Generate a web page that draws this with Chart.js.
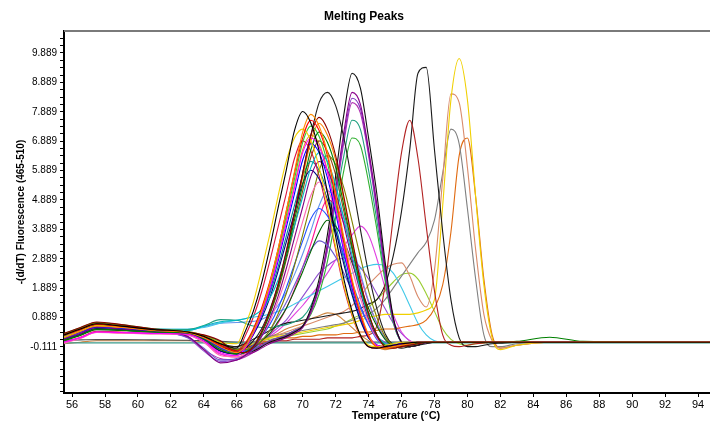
<!DOCTYPE html>
<html>
<head>
<meta charset="utf-8">
<script src="https://cdn.jsdelivr.net/npm/chart.js@4.4.1/dist/chart.umd.min.js"></script>
<style>
  html, body { margin: 0; padding: 0; background: #fff; overflow: hidden; }
  #wrap { width: 728px; height: 423px; }
</style>
</head>
<body>
<div id="wrap"><canvas id="meltChart" width="728" height="423"></canvas></div>
<script>
// Temperatures (x) shared by every curve
const temperatures = [55.5, 56.5, 57.5, 59, 61, 63, 64, 65,
  66, 66.5, 67, 67.5, 68, 68.5, 69, 69.5, 70, 70.5, 71, 71.5, 72, 72.5, 73, 73.5, 74, 74.5, 75, 75.5, 76, 76.5, 77, 77.5, 78, 78.5, 79, 79.5, 80, 80.5, 81, 81.5, 82,
  83, 85, 87, 96];

const xTicks = [56, 58, 60, 62, 64, 66, 68, 70, 72, 74, 76, 78, 80, 82, 84, 86, 88, 90, 92, 94];
const yTicks = [-0.111, 0.889, 1.889, 2.889, 3.889, 4.889, 5.889, 6.889, 7.889, 8.889, 9.889];

// -(d/dT) values per sample
const s01 = [0.3, 0.5, 0.68, 0.6, 0.48, 0.4, 0.25, 0.0,
  -0.15, 0.4, 1.1, 2.05, 3.25, 4.6, 5.9, 7.25, 7.9, 7.5, 6.55, 5.15, 3.65, 2.2, 1.1, 0.3, -0.1, -0.15, -0.1, -0.05, 0.0, 0.03, 0.05, 0.05, 0.05, 0.05, 0.05, 0.05, 0.05, 0.05, 0.05, 0.05, 0.05,
  0.05, 0.05, 0.05, 0.05];
const s02 = [0.2, 0.42, 0.6, 0.55, 0.45, 0.38, 0.2, -0.1,
  -0.3, -0.1, 0.4, 1.1, 2.05, 3.2, 4.5, 5.85, 7.2, 7.8, 7.4, 6.5, 5.1, 3.6, 2.2, 1.1, 0.3, -0.1, -0.15, -0.1, -0.05, 0.0, 0.05, 0.05, 0.05, 0.05, 0.05, 0.05, 0.05, 0.05, 0.05, 0.05, 0.05,
  0.05, 0.05, 0.05, 0.05];
const s03 = [0.28, 0.48, 0.66, 0.58, 0.46, 0.38, 0.22, -0.05,
  -0.25, 0.0, 0.5, 1.2, 2.1, 3.2, 4.5, 5.8, 7.0, 7.6, 7.25, 6.4, 5.0, 3.5, 2.1, 1.0, 0.25, -0.1, -0.15, -0.1, -0.05, 0.0, 0.05, 0.05, 0.05, 0.05, 0.05, 0.05, 0.05, 0.05, 0.05, 0.05, 0.05,
  0.05, 0.05, 0.05, 0.05];
const s04 = [0.35, 0.55, 0.74, 0.65, 0.5, 0.4, 0.3, 0.1,
  -0.3, -0.3, -0.1, 0.4, 1.1, 2.0, 3.15, 4.45, 5.8, 7.1, 7.7, 7.3, 6.4, 5.0, 3.55, 2.15, 1.05, 0.3, -0.1, -0.15, -0.1, -0.05, 0.0, 0.05, 0.05, 0.05, 0.05, 0.05, 0.05, 0.05, 0.05, 0.05, 0.05,
  0.05, 0.05, 0.05, 0.05];
const s05 = [0.22, 0.44, 0.62, 0.56, 0.46, 0.4, 0.25, 0.05,
  0.0, 0.6, 1.4, 2.5, 3.7, 5.0, 6.2, 7.0, 7.3, 6.9, 6.0, 4.7, 3.3, 2.0, 1.0, 0.3, -0.05, -0.1, -0.05, 0.0, 0.05, 0.05, 0.05, 0.05, 0.05, 0.05, 0.05, 0.05, 0.05, 0.05, 0.05, 0.05, 0.05,
  0.05, 0.05, 0.05, 0.05];
const s06 = [0.05, 0.2, 0.4, 0.38, 0.35, 0.32, 0.1, -0.3,
  -0.4, -0.15, 0.35, 1.0, 1.85, 2.9, 4.1, 5.3, 6.5, 7.0, 6.7, 5.85, 4.6, 3.25, 2.0, 1.0, 0.3, -0.05, -0.1, -0.05, 0.0, 0.02, 0.05, 0.05, 0.05, 0.05, 0.05, 0.05, 0.05, 0.05, 0.05, 0.05, 0.05,
  0.05, 0.05, 0.05, 0.05];
const s07 = [0.12, 0.3, 0.5, 0.46, 0.4, 0.35, 0.15, -0.2,
  -0.35, -0.3, -0.1, 0.35, 1.0, 1.9, 2.95, 4.2, 5.4, 6.6, 7.2, 6.85, 6.0, 4.7, 3.3, 2.0, 1.0, 0.3, -0.05, -0.1, -0.05, 0.0, 0.02, 0.05, 0.05, 0.05, 0.05, 0.05, 0.05, 0.05, 0.05, 0.05, 0.05,
  0.08, 0.22, 0.08, 0.05];
const s08 = [0.2, 0.4, 0.58, 0.54, 0.44, 0.36, 0.18, -0.12,
  -0.3, -0.1, 0.35, 1.0, 1.8, 2.8, 3.95, 5.1, 6.25, 6.8, 6.5, 5.65, 4.45, 3.15, 1.9, 0.95, 0.25, -0.05, -0.1, -0.05, 0.0, 0.02, 0.05, 0.05, 0.05, 0.05, 0.05, 0.05, 0.05, 0.05, 0.05, 0.05, 0.05,
  0.05, 0.05, 0.05, 0.05];
const s09 = [0.25, 0.45, 0.6, 0.55, 0.48, 0.45, 0.6, 0.75,
  0.8, 0.85, 0.95, 1.15, 1.55, 2.15, 3.0, 4.0, 5.0, 6.0, 6.5, 6.2, 5.4, 4.25, 3.0, 1.85, 0.95, 0.3, 0.0, -0.05, 0.0, 0.02, 0.05, 0.05, 0.05, 0.05, 0.05, 0.05, 0.05, 0.05, 0.05, 0.05, 0.05,
  0.05, 0.05, 0.05, 0.05];
const s10 = [0.15, 0.35, 0.55, 0.5, 0.42, 0.25, -0.2, -0.65,
  -0.55, -0.4, -0.15, 0.25, 0.85, 1.6, 2.55, 3.6, 4.65, 5.7, 6.2, 5.9, 5.15, 4.05, 2.85, 1.75, 0.85, 0.25, -0.05, -0.1, -0.05, 0.0, 0.02, 0.05, 0.05, 0.05, 0.05, 0.05, 0.05, 0.05, 0.05, 0.05, 0.05,
  0.05, 0.05, 0.05, 0.05];
const s11 = [0.15, 0.32, 0.52, 0.48, 0.42, 0.36, 0.12, -0.25,
  -0.35, -0.15, 0.3, 0.85, 1.55, 2.45, 3.45, 4.45, 5.45, 5.9, 5.6, 4.9, 3.85, 2.7, 1.65, 0.8, 0.2, -0.05, -0.1, -0.05, 0.0, 0.02, 0.05, 0.05, 0.05, 0.05, 0.05, 0.05, 0.05, 0.05, 0.05, 0.05, 0.05,
  0.05, 0.05, 0.05, 0.05];
const s12 = [0.02, 0.18, 0.38, 0.36, 0.33, 0.3, 0.05, -0.4,
  -0.45, -0.35, -0.1, 0.25, 0.75, 1.45, 2.25, 3.2, 4.15, 5.05, 5.5, 5.25, 4.55, 3.6, 2.55, 1.55, 0.75, 0.2, -0.05, -0.1, -0.05, 0.0, 0.02, 0.05, 0.05, 0.05, 0.05, 0.05, 0.05, 0.05, 0.05, 0.05, 0.05,
  0.05, 0.05, 0.05, 0.05];
const s13 = [0.32, 0.52, 0.7, 0.62, 0.5, 0.42, 0.28, 0.02,
  -0.2, -0.2, -0.1, 0.1, 0.45, 1.0, 1.7, 2.65, 3.7, 4.8, 5.9, 6.4, 6.1, 5.3, 4.15, 2.95, 1.8, 0.9, 0.25, -0.05, -0.1, -0.05, 0.0, 0.05, 0.05, 0.05, 0.05, 0.05, 0.05, 0.05, 0.05, 0.05, 0.05,
  0.05, 0.05, 0.05, 0.05];
const s14 = [0.18, 0.4, 0.58, 0.52, 0.44, 0.37, 0.2, -0.15,
  -0.3, -0.25, -0.05, 0.25, 0.65, 1.2, 1.9, 2.7, 3.5, 4.25, 4.6, 4.35, 3.8, 3.0, 2.1, 1.3, 0.65, 0.15, -0.05, -0.1, -0.05, 0.0, 0.02, 0.05, 0.05, 0.05, 0.05, 0.05, 0.05, 0.05, 0.05, 0.05, 0.05,
  0.05, 0.05, 0.05, 0.05];
const s15 = [0.1, 0.28, 0.48, 0.45, 0.4, 0.34, 0.12, -0.25,
  -0.35, -0.3, -0.15, 0.1, 0.35, 0.75, 1.2, 1.8, 2.45, 3.15, 3.8, 4.2, 4.0, 3.5, 2.75, 1.95, 1.2, 0.6, 0.15, -0.05, -0.05, 0.0, 0.02, 0.05, 0.05, 0.05, 0.05, 0.05, 0.05, 0.05, 0.05, 0.05, 0.05,
  0.05, 0.05, 0.05, 0.05];
const s16 = [0.12, 0.32, 0.52, 0.48, 0.4, 0.22, -0.15, -0.55,
  -0.5, -0.4, -0.2, 0.1, 0.45, 0.9, 1.4, 2.0, 2.6, 3.2, 3.5, 3.35, 2.95, 2.4, 1.8, 1.2, 0.65, 0.25, 0.05, -0.05, 0.0, 0.02, 0.05, 0.05, 0.05, 0.05, 0.05, 0.05, 0.05, 0.05, 0.05, 0.05, 0.05,
  0.05, 0.05, 0.05, 0.05];
const s17 = [0.3, 0.52, 0.7, 0.62, 0.48, 0.4, 0.26, 0.02,
  -0.2, -0.15, 0.1, 0.5, 1.15, 2.0, 3.1, 4.4, 5.8, 7.1, 8.2, 8.55, 8.1, 7.0, 5.5, 3.9, 2.4, 1.2, 0.35, -0.05, -0.15, -0.1, -0.05, 0.0, 0.05, 0.05, 0.05, 0.05, 0.05, 0.05, 0.05, 0.05, 0.05,
  0.05, 0.05, 0.05, 0.05];
// peaks near 73 °C
const s18 = [0.26, 0.46, 0.64, 0.58, 0.46, 0.38, 0.2, -0.1,
  -0.25, -0.3, -0.25, -0.1, 0.05, 0.15, 0.25, 0.4, 0.6, 1.2, 2.2, 3.7, 5.7, 7.8, 9.2, 8.7, 7.0, 5.1, 2.8, 0.9, 0.05, -0.1, -0.05, 0.05, 0.05, 0.05, 0.05, 0.05, 0.05, 0.05, 0.05, 0.05, 0.05,
  0.05, 0.05, 0.05, 0.05];
const s19 = [0.2, 0.42, 0.6, 0.55, 0.45, 0.38, 0.18, -0.15,
  -0.3, -0.35, -0.3, -0.15, 0.0, 0.1, 0.2, 0.35, 0.55, 1.1, 2.0, 3.4, 5.25, 7.2, 8.55, 8.15, 6.6, 4.75, 2.6, 0.85, 0.05, -0.1, -0.05, 0.05, 0.05, 0.05, 0.05, 0.05, 0.05, 0.05, 0.05, 0.05, 0.05,
  0.05, 0.05, 0.05, 0.05];
const s20 = [0.12, 0.3, 0.5, 0.46, 0.4, 0.35, 0.15, -0.1,
  -0.2, -0.25, -0.2, -0.05, 0.1, 0.2, 0.3, 0.45, 0.6, 1.1, 1.95, 3.3, 5.1, 7.0, 8.35, 8.0, 6.5, 4.6, 2.5, 0.8, 0.05, -0.1, -0.05, 0.05, 0.05, 0.05, 0.05, 0.05, 0.05, 0.05, 0.05, 0.05, 0.05,
  0.05, 0.05, 0.05, 0.05];
const s21 = [0.15, 0.35, 0.55, 0.5, 0.42, 0.25, -0.2, -0.5,
  -0.55, -0.45, -0.3, -0.1, 0.05, 0.15, 0.25, 0.4, 0.6, 1.05, 1.9, 3.2, 5.0, 6.85, 8.2, 7.85, 6.4, 4.5, 2.45, 0.8, 0.05, -0.1, -0.05, 0.05, 0.05, 0.05, 0.05, 0.05, 0.05, 0.05, 0.05, 0.05, 0.05,
  0.05, 0.05, 0.05, 0.05];
const s22 = [0.28, 0.48, 0.62, 0.56, 0.5, 0.48, 0.62, 0.82,
  0.8, 0.7, 0.6, 0.55, 0.55, 0.6, 0.65, 0.75, 0.9, 1.3, 2.0, 3.2, 4.8, 6.4, 7.6, 7.3, 5.9, 4.2, 2.3, 0.75, 0.05, -0.05, 0.0, 0.05, 0.05, 0.05, 0.05, 0.05, 0.05, 0.05, 0.05, 0.05, 0.05,
  0.05, 0.05, 0.05, 0.05];
const s23 = [0.22, 0.44, 0.6, 0.55, 0.46, 0.38, 0.2, -0.1,
  -0.3, -0.3, -0.2, -0.05, 0.1, 0.2, 0.3, 0.45, 0.6, 1.0, 1.7, 2.8, 4.3, 5.9, 7.0, 6.75, 5.5, 3.9, 2.15, 0.7, 0.05, -0.1, -0.05, 0.05, 0.05, 0.05, 0.05, 0.05, 0.05, 0.05, 0.05, 0.05, 0.05,
  0.05, 0.05, 0.05, 0.05];
// peaks near 76-77 °C
const s24 = [0.3, 0.5, 0.68, 0.6, 0.48, 0.4, 0.22, -0.05,
  -0.2, -0.15, -0.05, 0.0, 0.05, 0.1, 0.1, 0.15, 0.15, 0.15, 0.15, 0.2, 0.2, 0.2, 0.2, 0.25, 0.3, 0.6, 2.0, 4.3, 6.5, 7.6, 6.3, 4.0, 1.8, 0.3, -0.05, -0.1, -0.05, 0.0, 0.03, 0.05, 0.05,
  0.05, 0.05, 0.05, 0.05];
const s25 = [0.18, 0.4, 0.58, 0.54, 0.45, 0.38, 0.2, 0.0,
  -0.1, 0.0, 0.15, 0.3, 0.45, 0.6, 0.7, 0.75, 0.8, 0.85, 0.9, 0.95, 1.0, 1.05, 1.1, 1.2, 1.35, 1.5, 2.0, 3.0, 4.5, 6.6, 9.2, 9.4, 6.6, 3.8, 1.5, 0.2, -0.1, -0.1, -0.05, 0.0, 0.02,
  0.05, 0.05, 0.05, 0.05];
// peaks near 79-80 °C
const s26 = [0.24, 0.45, 0.62, 0.57, 0.47, 0.4, 0.22, -0.1,
  -0.3, -0.2, 0.0, 0.1, 0.2, 0.25, 0.3, 0.35, 0.4, 0.45, 0.5, 0.55, 0.6, 0.65, 0.7, 0.8, 0.9, 0.95, 1.0, 1.0, 1.0, 1.0, 1.05, 1.15, 1.5, 4.7, 8.3, 9.7, 8.3, 5.0, 2.0, 0.2, -0.2,
  -0.05, 0.05, 0.05, 0.05];
const s27 = [0.12, 0.3, 0.5, 0.46, 0.4, 0.35, 0.12, -0.2,
  -0.3, -0.2, -0.05, 0.1, 0.2, 0.3, 0.4, 0.5, 0.6, 0.7, 0.8, 0.9, 1.0, 1.1, 1.3, 1.6, 2.0, 2.3, 2.55, 2.7, 2.75, 2.3, 1.6, 1.25, 2.5, 5.6, 8.5, 8.2, 6.0, 3.2, 1.0, 0.1, -0.15,
  -0.05, 0.05, 0.05, 0.05];
const s28 = [0.3, 0.5, 0.66, 0.6, 0.47, 0.4, 0.24, 0.0,
  -0.2, -0.1, 0.05, 0.15, 0.25, 0.3, 0.35, 0.4, 0.45, 0.5, 0.55, 0.6, 0.65, 0.7, 0.8, 0.9, 1.0, 1.2, 1.5, 1.9, 2.3, 2.7, 3.1, 3.45, 4.2, 5.8, 7.3, 6.8, 4.6, 2.2, 0.3, -0.1, -0.1,
  0.0, 0.05, 0.05, 0.05];
const s29 = [0.2, 0.42, 0.6, 0.55, 0.45, 0.38, 0.2, -0.1,
  -0.3, -0.2, -0.05, 0.05, 0.1, 0.15, 0.2, 0.2, 0.25, 0.25, 0.3, 0.3, 0.3, 0.35, 0.35, 0.4, 0.4, 0.45, 0.5, 0.5, 0.55, 0.6, 0.65, 0.8, 1.2, 2.0, 3.8, 6.4, 7.0, 5.0, 2.2, 0.3, -0.15,
  -0.05, 0.05, 0.05, 0.05];
// small and broad peaks
const s30 = [0.25, 0.45, 0.6, 0.55, 0.5, 0.5, 0.55, 0.7,
  0.8, 0.85, 0.9, 0.95, 1.0, 1.1, 1.2, 1.35, 1.5, 1.65, 1.8, 1.95, 2.1, 2.25, 2.4, 2.55, 2.65, 2.7, 2.65, 2.4, 1.9, 1.3, 0.7, 0.3, 0.1, 0.05, 0.05, 0.05, 0.05, 0.05, 0.05, 0.05, 0.05,
  0.05, 0.05, 0.05, 0.05];
const s31 = [0.2, 0.42, 0.6, 0.55, 0.45, 0.38, 0.2, -0.1,
  -0.2, -0.1, 0.0, 0.1, 0.15, 0.2, 0.25, 0.3, 0.35, 0.4, 0.45, 0.5, 0.6, 0.7, 0.85, 1.0, 1.25, 1.5, 1.8, 2.1, 2.35, 2.4, 2.2, 1.7, 1.1, 0.5, 0.15, 0.0, -0.05, 0.0, 0.03, 0.05, 0.05,
  0.05, 0.05, 0.05, 0.05];
const s32 = [0.05, 0.2, 0.4, 0.38, 0.35, 0.3, 0.05, -0.35,
  -0.4, -0.3, -0.15, 0.05, 0.25, 0.45, 0.7, 1.0, 1.3, 1.65, 2.0, 2.4, 2.85, 3.3, 3.7, 4.0, 3.7, 2.9, 1.9, 1.0, 0.4, 0.1, 0.0, 0.02, 0.05, 0.05, 0.05, 0.05, 0.05, 0.05, 0.05, 0.05, 0.05,
  0.05, 0.05, 0.05, 0.05];
const s33 = [0.15, 0.35, 0.55, 0.5, 0.4, 0.2, -0.25, -0.6,
  -0.55, -0.4, -0.2, 0.05, 0.3, 0.55, 0.8, 1.2, 1.6, 2.0, 2.4, 2.65, 2.85, 2.9, 2.85, 2.6, 2.2, 1.7, 1.2, 0.7, 0.35, 0.1, 0.0, 0.02, 0.05, 0.05, 0.05, 0.05, 0.05, 0.05, 0.05, 0.05, 0.05,
  0.05, 0.05, 0.05, 0.05];
// flat controls
const s34 = [0.03, 0.03, 0.03, 0.03, 0.03, 0.03, 0.03, 0.03,
  0.03, 0.03, 0.03, 0.03, 0.03, 0.03, 0.03, 0.03, 0.03, 0.03, 0.03, 0.03, 0.03, 0.03, 0.03, 0.03, 0.03, 0.03, 0.03, 0.03, 0.03, 0.03, 0.03, 0.03, 0.03, 0.03, 0.03, 0.03, 0.03, 0.03, 0.03, 0.03, 0.03,
  0.03, 0.03, 0.03, 0.03];
const s35 = [0.12, 0.13, 0.14, 0.14, 0.13, 0.12, 0.1, 0.08,
  0.06, 0.06, 0.06, 0.06, 0.06, 0.06, 0.06, 0.06, 0.06, 0.06, 0.06, 0.06, 0.06, 0.06, 0.06, 0.06, 0.06, 0.06, 0.06, 0.06, 0.06, 0.06, 0.06, 0.06, 0.06, 0.06, 0.06, 0.06, 0.06, 0.06, 0.06, 0.06, 0.06,
  0.05, 0.05, 0.05, 0.05];
const s36 = [0.0, 0.05, 0.1, 0.1, 0.1, 0.1, 0.05, -0.05,
  -0.1, -0.05, 0.05, 0.15, 0.25, 0.35, 0.5, 0.6, 0.7, 0.85, 0.95, 1.05, 1.0, 0.8, 0.55, 0.3, 0.1, -0.1, -0.2, -0.15, -0.1, -0.05, 0.0, 0.02, 0.05, 0.05, 0.05, 0.05, 0.05, 0.05, 0.05, 0.05, 0.05,
  0.05, 0.05, 0.05, 0.05];
// more of the main cluster
const s37 = [0.34, 0.54, 0.72, 0.64, 0.5, 0.4, 0.28, 0.08,
  -0.2, 0.0, 0.45, 1.1, 2.0, 3.1, 4.35, 5.6, 6.85, 7.4, 7.05, 6.15, 4.8, 3.4, 2.05, 1.0, 0.25, -0.1, -0.15, -0.1, -0.05, 0.0, 0.05, 0.05, 0.05, 0.05, 0.05, 0.05, 0.05, 0.05, 0.05, 0.05, 0.05,
  0.05, 0.05, 0.05, 0.05];
const s38 = [0.14, 0.32, 0.52, 0.47, 0.41, 0.35, 0.14, -0.2,
  -0.35, -0.3, -0.1, 0.35, 1.05, 1.95, 3.05, 4.35, 5.65, 6.9, 7.5, 7.1, 6.25, 4.9, 3.45, 2.1, 1.0, 0.3, -0.1, -0.15, -0.1, -0.05, 0.0, 0.05, 0.05, 0.05, 0.05, 0.05, 0.05, 0.05, 0.05, 0.05, 0.05,
  0.05, 0.05, 0.05, 0.05];
const s39 = [0.06, 0.22, 0.42, 0.4, 0.36, 0.33, 0.12, -0.25,
  -0.3, 0.25, 0.9, 1.75, 2.8, 3.95, 5.1, 6.3, 6.9, 6.55, 5.7, 4.5, 3.2, 1.9, 0.95, 0.25, -0.1, -0.15, -0.1, -0.05, 0.0, 0.03, 0.05, 0.05, 0.05, 0.05, 0.05, 0.05, 0.05, 0.05, 0.05, 0.05, 0.05,
  0.05, 0.05, 0.05, 0.05];
const s40 = [0.25, 0.44, 0.58, 0.54, 0.48, 0.46, 0.58, 0.7,
  0.72, 0.74, 0.76, 0.82, 1.0, 1.3, 1.75, 2.35, 3.05, 3.85, 4.7, 5.2, 4.95, 4.3, 3.4, 2.4, 1.45, 0.7, 0.2, 0.0, -0.05, 0.0, 0.02, 0.05, 0.05, 0.05, 0.05, 0.05, 0.05, 0.05, 0.05, 0.05, 0.05,
  0.05, 0.05, 0.05, 0.05];
const s41 = [0.28, 0.48, 0.66, 0.6, 0.48, 0.4, 0.24, 0.0,
  -0.2, 0.0, 0.4, 0.95, 1.7, 2.6, 3.65, 4.7, 5.7, 6.2, 5.9, 5.15, 4.05, 2.85, 1.75, 0.85, 0.2, -0.05, -0.1, -0.05, 0.0, 0.02, 0.05, 0.05, 0.05, 0.05, 0.05, 0.05, 0.05, 0.05, 0.05, 0.05, 0.05,
  0.05, 0.05, 0.05, 0.05];
const s42 = [0.2, 0.42, 0.6, 0.56, 0.46, 0.38, 0.2, -0.12,
  -0.3, -0.25, -0.05, 0.4, 1.0, 1.8, 2.85, 4.0, 5.2, 6.35, 6.9, 6.55, 5.75, 4.5, 3.2, 1.95, 0.95, 0.3, -0.05, -0.1, -0.05, 0.0, 0.02, 0.05, 0.05, 0.05, 0.05, 0.05, 0.05, 0.05, 0.05, 0.05, 0.05,
  0.05, 0.05, 0.05, 0.05];
const s43 = [0.22, 0.43, 0.61, 0.56, 0.46, 0.39, 0.21, -0.08,
  -0.25, -0.05, 0.45, 1.1, 1.95, 3.0, 4.2, 5.4, 6.6, 7.1, 6.8, 5.9, 4.65, 3.3, 2.0, 1.0, 0.25, -0.05, -0.1, -0.05, 0.0, 0.02, 0.05, 0.05, 0.05, 0.05, 0.05, 0.05, 0.05, 0.05, 0.05, 0.05, 0.05,
  0.05, 0.05, 0.05, 0.05];
const s44 = [0.04, 0.19, 0.39, 0.37, 0.34, 0.31, 0.08, -0.35,
  -0.45, -0.4, -0.25, 0.0, 0.3, 0.7, 1.2, 1.85, 2.6, 3.4, 4.3, 4.9, 4.7, 4.1, 3.25, 2.3, 1.4, 0.7, 0.2, -0.05, -0.1, -0.05, 0.0, 0.05, 0.05, 0.05, 0.05, 0.05, 0.05, 0.05, 0.05, 0.05, 0.05,
  0.05, 0.05, 0.05, 0.05];

const curveValues = [s01, s02, s03, s04, s05, s06, s07, s08, s09, s10, s11, s12, s13, s14, s15, s16, s17,
  s18, s19, s20, s21, s22, s23, s24, s25, s26, s27, s28, s29, s30, s31, s32, s33, s34, s35, s36,
  s37, s38, s39, s40, s41, s42, s43, s44];
const curveColors = ['#000000', '#ff8c00', '#ff0000', '#8b0000', '#f2d000', '#ff00ff', '#008000', '#0000ff',
  '#00b8c0', '#800080', '#000080', '#ff69b4', '#808000', '#1e50ff', '#006400', '#6a5acd', '#202020',
  '#101010', '#8b008b', '#7b2fbe', '#b030b0', '#20a080', '#30b030', '#b22222', '#1a1a1a', '#f0d000',
  '#d98a6a', '#808080', '#e06a10', '#40c8e8', '#9acd32', '#e040e0', '#9050d0', '#3a9a8a', '#505050',
  '#cd853f', '#32cd32', '#ff7f00', '#dc143c', '#6495ed', '#008b8b', '#8b4513', '#daa520', '#ff1493'];

const fontFamily = "'Liberation Sans', Arial, sans-serif";

// grey line on top of the plot box
const topBorder = {
  id: 'topBorder',
  afterDraw(chart) {
    const { ctx, chartArea } = chart;
    ctx.save();
    ctx.strokeStyle = '#7a7a7a';
    ctx.lineWidth = 2;
    ctx.beginPath();
    ctx.moveTo(chartArea.left, chartArea.top);
    ctx.lineTo(chartArea.right, chartArea.top);
    ctx.stroke();
    ctx.restore();
  }
};

function isMajor(v) {
  return yTicks.some(t => Math.abs(t - v) < 1e-6);
}

const datasets = curveValues.map((vals, i) => ({
  label: 'sample ' + (i + 1),
  data: vals,
  borderColor: curveColors[i],
  borderWidth: 1.1,
  pointRadius: 0,
  fill: false,
  cubicInterpolationMode: 'monotone'
}));

new Chart(document.getElementById('meltChart'), {
  type: 'line',
  data: { labels: temperatures, datasets: datasets },
  options: {
    responsive: false,
    animation: false,
    devicePixelRatio: 1,
    layout: { padding: 0 },
    plugins: {
      legend: { display: false },
      tooltip: { enabled: false },
      title: {
        display: true,
        text: 'Melting Peaks',
        color: '#000',
        font: { family: fontFamily, size: 12, weight: 'bold' },
        padding: { top: 9, bottom: 7.6 }
      }
    },
    scales: {
      x: {
        type: 'linear',
        min: 55.51,
        max: 95.82,
        afterBuildTicks: s => { s.ticks = xTicks.map(v => ({ value: v })); },
        afterFit: s => { s.height = 30; },
        grid: { drawOnChartArea: false, drawTicks: true, tickLength: 4, color: '#000' },
        border: { color: '#000', width: 2 },
        ticks: { color: '#000', font: { family: fontFamily, size: 11 }, padding: 1, maxRotation: 0, autoSkip: false },
        title: {
          display: true, text: 'Temperature (°C)', color: '#000',
          font: { family: fontFamily, size: 11, weight: 'bold' },
          padding: { top: 0, bottom: 0 }
        }
      },
      y: {
        min: -1.676,
        max: 10.637,
        afterBuildTicks: s => {
          const list = [];
          for (let v = yTicks[0] - 1.5; v <= s.max + 1e-6; v += 0.25) {
            list.push({ value: Math.round(v * 1000) / 1000 });
          }
          s.ticks = list;
        },
        afterFit: s => { s.width = 64; },
        grid: { drawOnChartArea: false, drawTicks: true, tickLength: 4, color: '#000' },
        border: { color: '#000', width: 2 },
        ticks: {
          color: '#000',
          font: { family: fontFamily, size: 10 },
          padding: 3,
          autoSkip: false,
          callback: v => isMajor(v) ? v.toFixed(3) : ''
        },
        title: {
          display: true, text: '-(d/dT) Fluorescence (465-510)', color: '#000',
          font: { family: fontFamily, size: 10, weight: 'bold' },
          padding: { top: 15, bottom: 0 }
        }
      }
    }
  },
  plugins: [topBorder]
});
</script>
</body>
</html>
